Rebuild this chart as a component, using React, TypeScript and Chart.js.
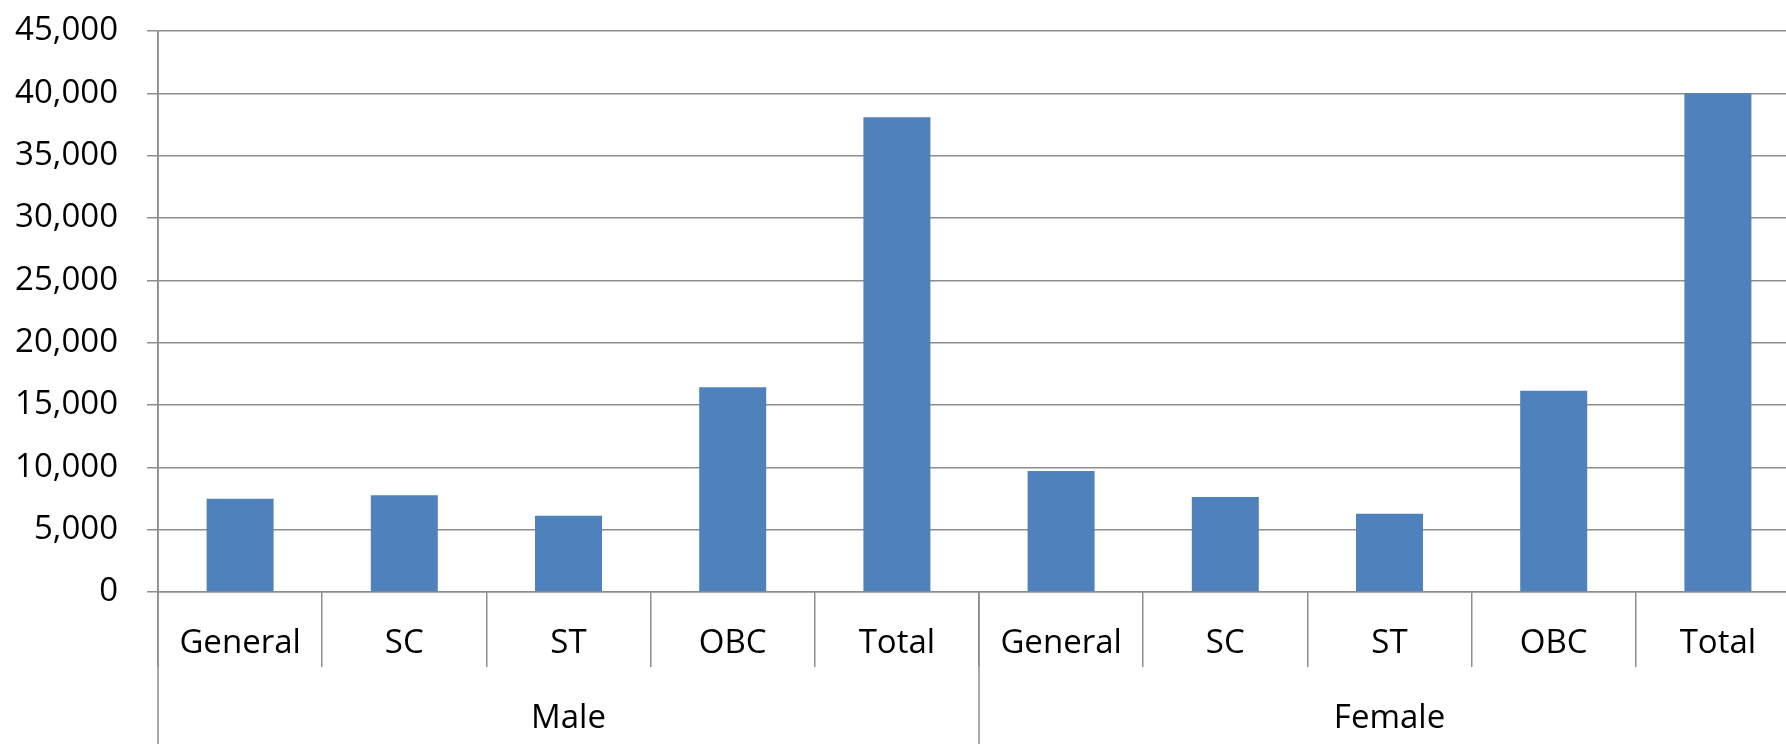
import React, { useEffect, useRef } from "react";
import { Chart, registerables } from "chart.js";

Chart.register(...registerables);

const categories = ["General", "SC", "ST", "OBC", "Total", "General", "SC", "ST", "OBC", "Total"];
const groups = ["Male", "Female"];
const groupSize = 5;
const values = [7480, 7760, 6120, 16420, 38080, 9710, 7620, 6280, 16150, 40000];
const yMin = 0;
const yMax = 45000;
const yStep = 5000;

const FONT = "'Open Sans', 'Noto Sans', sans-serif";
const GRID = "#8d8d8d";

const groupPlugin = {
  id: "groupLabels",
  afterDraw(chart: any) {
    const { ctx, chartArea, scales } = chart;
    const x = scales.x;
    const h = chart.height;
    ctx.save();
    ctx.strokeStyle = GRID;
    ctx.lineWidth = 1.5;
    ctx.beginPath();
    ctx.moveTo(chartArea.left, chartArea.top);
    ctx.lineTo(chartArea.left, h);
    ctx.stroke();
    const step = x.getPixelForValue(1) - x.getPixelForValue(0);
    ctx.fillStyle = "#000";
    ctx.font = `33px ${FONT}`;
    ctx.textAlign = "center";
    ctx.textBaseline = "alphabetic";
    groups.forEach((g, gi) => {
      const first = gi * groupSize;
      const last = first + groupSize - 1;
      const leftB = x.getPixelForValue(first) - step / 2;
      const rightB = x.getPixelForValue(last) + step / 2;
      ctx.beginPath();
      ctx.moveTo(rightB, chartArea.bottom);
      ctx.lineTo(rightB, h);
      ctx.stroke();
      ctx.fillText(g, (leftB + rightB) / 2, chartArea.bottom + 136);
    });
    ctx.restore();
  },
};

export default function App() {
  const ref = useRef<HTMLCanvasElement>(null);
  useEffect(() => {
    if (!ref.current) return;
    const chart = new Chart(ref.current, {
      type: "bar",
      data: {
        labels: categories,
        datasets: [
          {
            data: values,
            backgroundColor: "#4F81BD",
            borderWidth: 0,
            barPercentage: 0.408,
            categoryPercentage: 1,
          },
        ],
      },
      options: {
        animation: false,
        responsive: false,
        layout: { padding: { top: 31, left: 0, right: 0, bottom: 0 } },
        plugins: { legend: { display: false }, tooltip: { enabled: false } },
        scales: {
          x: {
            grid: {
              offset: true,
              drawOnChartArea: false,
              drawTicks: true,
              tickLength: 75,
              color: GRID,
              lineWidth: 1.5,
            },
            border: { display: true, color: GRID, width: 1.5 },
            ticks: {
              padding: -43,
              color: "#000",
              font: { family: FONT, size: 33 },
              maxRotation: 0,
              autoSkip: false,
            },
            afterFit: (s: any) => {
              s.height = 152;
              s.paddingLeft = 0;
              s.paddingRight = 0;
            },
          },
          y: {
            min: yMin,
            max: yMax,
            ticks: {
              stepSize: yStep,
              padding: 29,
              color: "#000",
              font: { family: FONT, size: 33 },
              callback: (v: any) => Number(v).toLocaleString("en-US"),
            },
            grid: { color: GRID, lineWidth: 1.5, tickLength: 11, drawTicks: true },
            border: { display: true, color: GRID, width: 1.5 },
            afterFit: (s: any) => {
              s.width = 158;
              s.paddingTop = 0;
              s.paddingBottom = 0;
            },
          },
        },
      },
      plugins: [groupPlugin],
    });
    return () => chart.destroy();
  }, []);
  return (
    <div
      style={{
        position: "fixed",
        left: 0,
        top: 0,
        width: 1786,
        height: 744,
        overflow: "hidden",
        background: "#fff",
      }}
    >
      <canvas ref={ref} width={1800} height={744} style={{ width: 1800, height: 744, display: "block" }} />
    </div>
  );
}
